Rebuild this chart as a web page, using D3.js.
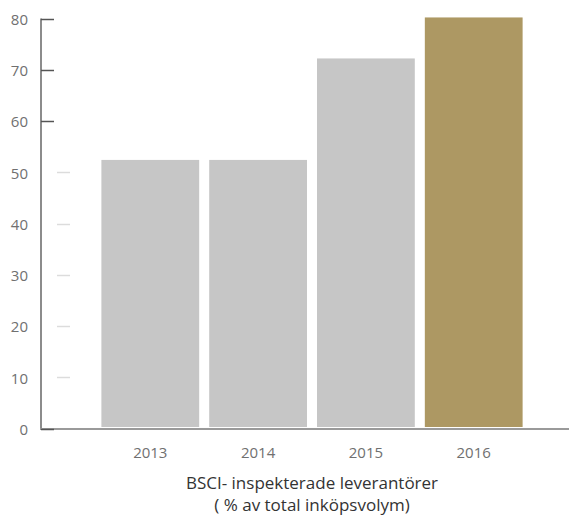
<!DOCTYPE html>
<html>
<head>
<meta charset="utf-8">
<script src="https://cdn.jsdelivr.net/npm/d3@7"></script>
<style>
  html, body { margin: 0; padding: 0; background: #fff; }
  svg { display: block; }
  text { font-family: "Open Sans", "Noto Sans", sans-serif; }
</style>
</head>
<body>
<svg id="chart" width="569" height="516"></svg>
<script>
// BSCI-inspected suppliers, share of total purchase volume (%)
const years = ["2013", "2014", "2015", "2016"];
const values = [52.6, 52.6, 72.4, 80.4];
const barColors = ["#c6c6c6", "#c6c6c6", "#c6c6c6", "#ad9863"];
const yTicks = [0, 10, 20, 30, 40, 50, 60, 70, 80];
const titleLines = ["BSCI- inspekterade leverantörer", "( % av total inköpsvolym)"];

const svg = d3.select("#chart");
const axisX = 41;
const plotRight = 569;

const y = d3.scaleLinear().domain([0, 80]).range([429.5, 19.5]);
const x = d3.scaleBand().domain(years).range([96, 528]).paddingInner(0.093).paddingOuter(0.05);

// bars
svg.append("g").selectAll("rect")
  .data(values)
  .join("rect")
  .attr("x", (d, i) => x(years[i]))
  .attr("width", x.bandwidth())
  .attr("y", d => y(d))
  .attr("height", d => y(0) - 2.5 - y(d))
  .attr("fill", (d, i) => barColors[i]);

// y axis line
svg.append("line")
  .attr("x1", axisX).attr("x2", axisX)
  .attr("y1", y(80) - 1).attr("y2", y(0))
  .attr("stroke", "#8c8c8c").attr("stroke-width", 2);

// x axis line
svg.append("line")
  .attr("x1", axisX - 1).attr("x2", plotRight)
  .attr("y1", y(0) - 0.5).attr("y2", y(0) - 0.5)
  .attr("stroke", "#9a9a9a").attr("stroke-width", 2);

// tick marks: dark on the axis at the ends, faint dashes inside for the middle values
const tickG = svg.append("g");
yTicks.forEach(t => {
  const dark = t >= 60 || t === 0;
  tickG.append("line")
    .attr("x1", dark ? axisX : 57).attr("x2", dark ? 54 : 70)
    .attr("y1", Math.round(y(t)) - 0.5).attr("y2", Math.round(y(t)) - 0.5)
    .attr("stroke", dark ? "#555" : "#dcdcdc")
    .attr("stroke-width", 1.5);
});

// tick labels
svg.append("g").selectAll("text")
  .data(yTicks)
  .join("text")
  .attr("x", 28)
  .attr("y", d => y(d))
  .attr("dy", "0.36em")
  .attr("text-anchor", "end")
  .attr("font-size", 15)
  .attr("fill", "#707070")
  .text(d => d);

// year labels
svg.append("g").selectAll("text")
  .data(years)
  .join("text")
  .attr("x", d => x(d) + x.bandwidth() / 2)
  .attr("y", 453)
  .attr("dy", "0.36em")
  .attr("text-anchor", "middle")
  .attr("font-size", 15)
  .attr("fill", "#707070")
  .text(d => d);

// caption
svg.append("g").selectAll("text")
  .data(titleLines)
  .join("text")
  .attr("x", 312)
  .attr("y", (d, i) => 483 + i * 22)
  .attr("dy", "0.35em")
  .attr("text-anchor", "middle")
  .attr("font-size", 17)
  .attr("fill", "#333")
  .text(d => d);
</script>
</body>
</html>
